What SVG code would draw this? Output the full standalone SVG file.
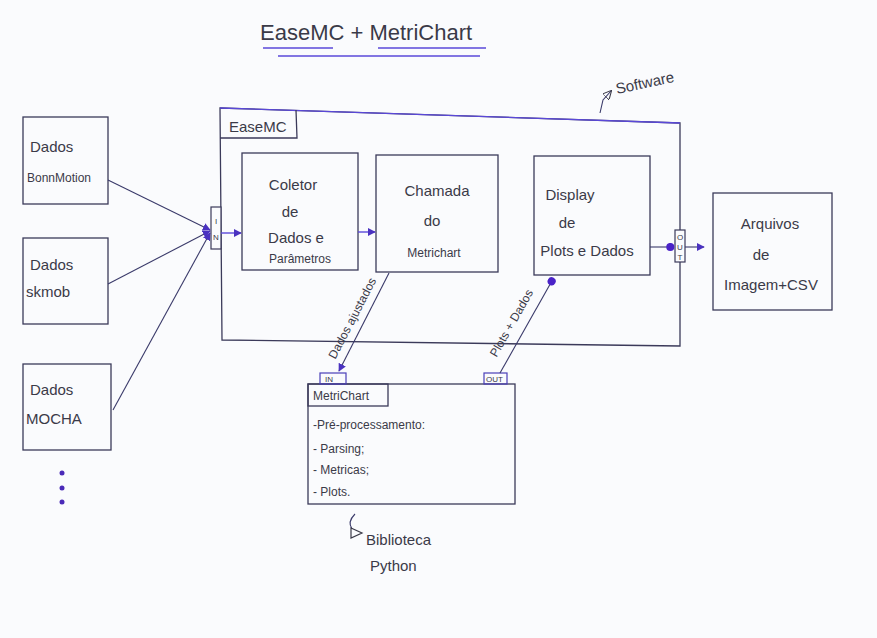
<svg xmlns="http://www.w3.org/2000/svg" width="877" height="638" viewBox="0 0 877 638">
<defs>
<style>
.bg{fill:#fafbfd}
.box{fill:none;stroke:#3b3a5a;stroke-width:1.3}
.port{fill:#fafbfd;stroke:#3b3a5a;stroke-width:1.2}
.pbox{fill:none;stroke:#4a3fb8;stroke-width:1.2}
.ln{fill:none;stroke:#3a3a6a;stroke-width:1.1}
.pl{fill:none;stroke:#5a48d8;stroke-width:1.4}
.t{font-family:"Liberation Sans",Arial,sans-serif;fill:#3a3a48;font-size:15px}
.c{text-anchor:middle}
.s{font-size:12px}
.xs{font-size:8px}
</style>
<marker id="tri" viewBox="0 0 10 10" refX="9" refY="5" markerWidth="8" markerHeight="8" orient="auto" markerUnits="userSpaceOnUse">
<path d="M0,0 L10,5 L0,10 z" fill="#4a32c0"/>
</marker>
<marker id="dot" viewBox="0 0 10 10" refX="8" refY="5" markerWidth="9" markerHeight="9" orient="auto" markerUnits="userSpaceOnUse">
<circle cx="5" cy="5" r="4.5" fill="#4a22c8"/>
</marker>
<marker id="open" viewBox="0 0 10 10" refX="9" refY="5" markerWidth="9" markerHeight="9" orient="auto" markerUnits="userSpaceOnUse">
<path d="M0,0 L10,5 L0,10 z" fill="none" stroke="#3a3a48" stroke-width="1.2"/>
</marker>
</defs>
<rect class="bg" x="0" y="0" width="877" height="638"/>

<g id="title">
<text class="t" x="260" y="40" style="font-size:22px">EaseMC  +  MetriChart</text>
<line class="pl" x1="263" y1="48" x2="333" y2="48"/>
<line class="pl" x1="378" y1="48" x2="486" y2="48"/>
<line class="pl" x1="278" y1="56" x2="480" y2="56"/>
</g>

<g id="software-note">
<path class="ln" d="M600,113 L603,100 L611,91" marker-end="url(#open)"/>
<text class="t" x="617" y="94" transform="rotate(-12 617 94)">Software</text>
</g>

<g id="easemc">
<path class="box" d="M220,108 L680,123 L680,346 L222,340 Z"/>
<line x1="220" y1="108" x2="680" y2="123" stroke="#5a48d8" stroke-width="1.3"/>
<path class="box" d="M220,138 L297,138 L296,110"/>
<text class="t" x="229" y="132">EaseMC</text>
</g>

<g id="in-port">
<rect class="port" x="211" y="207" width="10" height="42"/>
<text class="t xs c" x="216" y="224">I</text>
<text class="t xs c" x="216" y="240">N</text>
</g>

<g id="out-port">
<rect class="port" x="675" y="230" width="10" height="32"/>
<text class="t xs c" x="680" y="240">O</text>
<text class="t xs c" x="680" y="250">U</text>
<text class="t xs c" x="680" y="260">T</text>
</g>

<g id="coletor">
<rect class="box" x="242" y="153" width="116" height="117"/>
<text class="t c" x="293" y="190">Coletor</text>
<text class="t c" x="290" y="217">de</text>
<text class="t c" x="296" y="243">Dados e</text>
<text class="t c s" x="300" y="263">Parâmetros</text>
</g>

<g id="chamada">
<rect class="box" x="376" y="155" width="122" height="117"/>
<text class="t c" x="437" y="196">Chamada</text>
<text class="t c" x="432" y="226">do</text>
<text class="t c s" x="434" y="257">Metrichart</text>
</g>

<g id="display">
<rect class="box" x="534" y="156" width="116" height="119"/>
<text class="t c" x="570" y="200">Display</text>
<text class="t c" x="567" y="228">de</text>
<text class="t c" x="587" y="256">Plots e Dados</text>
</g>

<g id="arquivos">
<rect class="box" x="713" y="193" width="119" height="117"/>
<text class="t c" x="770" y="229">Arquivos</text>
<text class="t c" x="761" y="260">de</text>
<text class="t c" x="771" y="290">Imagem+CSV</text>
</g>

<g id="dados-bonnmotion">
<rect class="box" x="23" y="117" width="85" height="87"/>
<text class="t" x="30" y="152">Dados</text>
<text class="t s" x="27" y="182">BonnMotion</text>
</g>

<g id="dados-skmob">
<rect class="box" x="23" y="238" width="85" height="86"/>
<text class="t" x="30" y="270">Dados</text>
<text class="t" x="26" y="297">skmob</text>
</g>

<g id="dados-mocha">
<rect class="box" x="23" y="364" width="88" height="86"/>
<text class="t" x="30" y="395">Dados</text>
<text class="t" x="26" y="424">MOCHA</text>
</g>

<g id="more-dots">
<circle cx="62" cy="473" r="2.5" fill="#4a2ab8"/>
<circle cx="62" cy="488" r="2.5" fill="#4a2ab8"/>
<circle cx="62" cy="502" r="2.5" fill="#4a2ab8"/>
</g>

<g id="metrichart">
<rect class="box" x="308" y="384" width="207" height="120"/>
<rect class="box" x="308" y="384" width="80" height="22"/>
<text class="t s" x="313" y="400">MetriChart</text>
<rect class="pbox" x="320" y="373" width="26" height="11"/>
<text class="t xs" x="325" y="382">IN</text>
<rect class="pbox" x="484" y="373" width="23" height="11"/>
<text class="t xs" x="486" y="382">OUT</text>
<text class="t s" x="313" y="429">-Pré-processamento:</text>
<text class="t s" x="313" y="453">- Parsing;</text>
<text class="t s" x="313" y="474">- Metricas;</text>
<text class="t s" x="313" y="496">- Plots.</text>
</g>

<g id="biblioteca-note">
<path class="ln" d="M355,514 Q347,522 352,529"/>
<path d="M351,528 L362,533 L351,538 Z" fill="none" stroke="#3a3a48" stroke-width="1.2"/>
<text class="t" x="366" y="545">Biblioteca</text>
<text class="t" x="370" y="571">Python</text>
</g>

<g id="connectors">
<line class="ln" x1="108" y1="180" x2="210" y2="230" marker-end="url(#tri)"/>
<line class="ln" x1="108" y1="284" x2="210" y2="231" marker-end="url(#tri)"/>
<line class="ln" x1="113" y1="410" x2="210" y2="233" marker-end="url(#tri)"/>
<line class="pl" x1="221" y1="233" x2="241" y2="233" marker-end="url(#tri)"/>
<line class="pl" x1="358" y1="232" x2="375" y2="232" marker-end="url(#tri)"/>
<line class="ln" x1="650" y1="247" x2="673" y2="247" marker-end="url(#dot)"/>
<line class="ln" x1="685" y1="247" x2="704" y2="247" marker-end="url(#tri)"/>
<line class="ln" x1="389" y1="273" x2="339" y2="371" marker-end="url(#tri)"/>
<line class="ln" x1="500" y1="373" x2="553" y2="279" marker-end="url(#dot)"/>
<text class="t s c" x="356" y="320" transform="rotate(-62.5 356 320)">Dados ajustados</text>
<text class="t s c" x="515" y="325" transform="rotate(-60.5 515 325)">Plots + Dados</text>
</g>
</svg>
